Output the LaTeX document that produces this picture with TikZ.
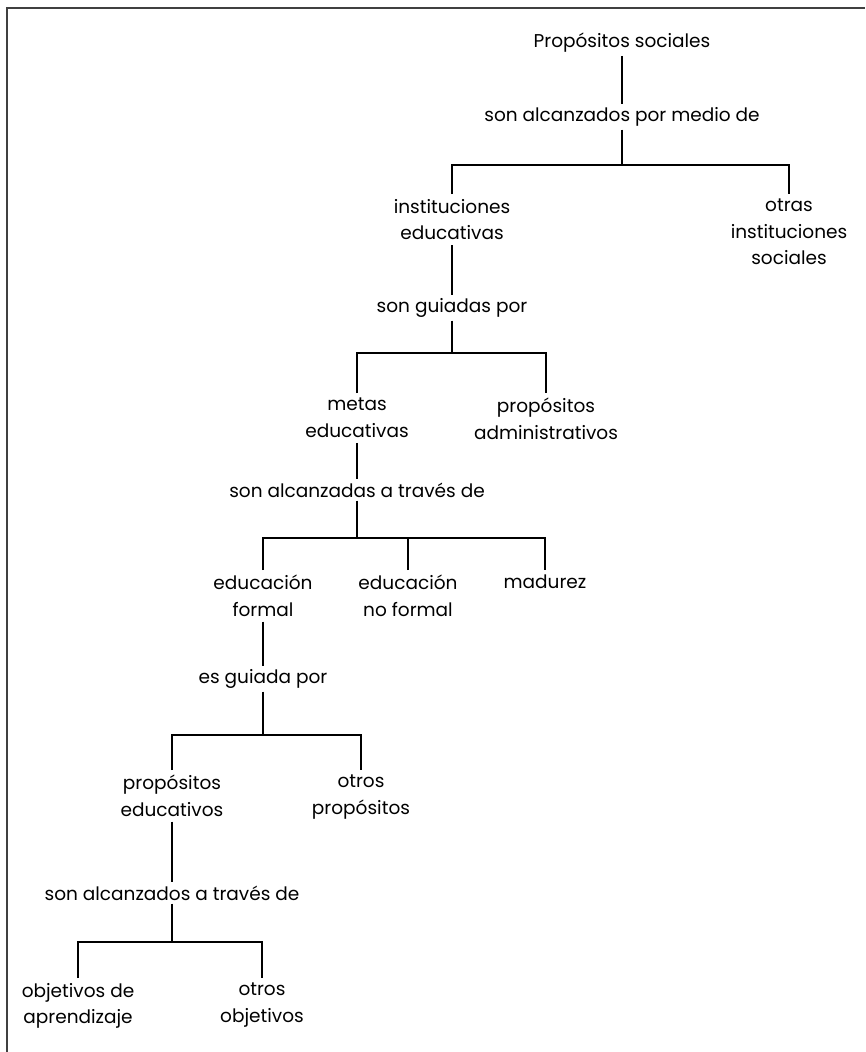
\documentclass[tikz,border=0pt]{standalone}
\usepackage{fontspec}
\setmainfont{Poppins}
\begin{document}
\begin{tikzpicture}[x=1pt,y=-1pt,
  txt/.style={font=\fontsize{18.5}{26.5}\selectfont, align=center, inner xsep=0pt},
  item/.style={txt, anchor=north, inner ysep=5pt},
  rel/.style={txt, anchor=center, inner ysep=3pt},
  conn/.style={draw=black, line width=1.1pt}]
\useasboundingbox (0,0) rectangle (865,1052);
% page frame
\draw[line width=1.8pt, black!75] (7,1052) -- (7,8) -- (865,8);

% level 0
\node[rel] (ps) at (622,43) {Propósitos sociales};
\node[rel] (l1) at (622,117) {son alcanzados por medio de};
\coordinate (b1) at (622,165);
% level 1
\node[item] (ie)  at (452,194) {instituciones\\educativas};
\node[item] (ois) at (789,194) {otras\\instituciones\\sociales};
\node[rel] (l2) at (452,308) {son guiadas por};
\coordinate (b2) at (452,353);
% level 2
\node[item] (me) at (357,393) {metas\\educativas};
\node[item] (pa) at (546,393) {propósitos\\administrativos};
\node[rel] (l3) at (357,490) {son alcanzadas a través de};
\coordinate (b3) at (357,538);
% level 3
\node[item] (ef)  at (263,570) {educación\\formal};
\node[item] (enf) at (408,570) {educación\\no formal};
\node[item] (mad) at (545,570) {madurez};
\node[rel] (l4) at (263,679) {es guiada por};
\coordinate (b4) at (263,735);
% level 4
\node[item] (pe) at (172,770) {propósitos\\educativos};
\node[item] (op) at (361,770) {otros\\propósitos};
\node[rel] (l5) at (172,893) {son alcanzados a través de};
\coordinate (b5) at (172,942);
% level 5
\node[item] (oa) at (78,978) {objetivos de\\aprendizaje};
\node[item] (oo) at (262,978) {otros\\objetivos};

% connectors
\draw[conn] (ps) -- (l1);
\draw[conn] (l1) -- (b1);
\draw[conn] (ie.north) |- (b1) -| (ois.north);
\draw[conn] (ie) -- (l2);
\draw[conn] (l2) -- (b2);
\draw[conn] (me.north) |- (b2) -| (pa.north);
\draw[conn] (me) -- (l3);
\draw[conn] (l3) -- (b3);
\draw[conn] (ef.north) |- (b3) -| (mad.north);
\draw[conn] (enf.north) -- (enf.north |- b3);
\draw[conn] (ef) -- (l4);
\draw[conn] (l4) -- (b4);
\draw[conn] (pe.north) |- (b4) -| (op.north);
\draw[conn] (pe) -- (l5);
\draw[conn] (l5) -- (b5);
\draw[conn] (oa.north) |- (b5) -| (oo.north);
\end{tikzpicture}
\end{document}
